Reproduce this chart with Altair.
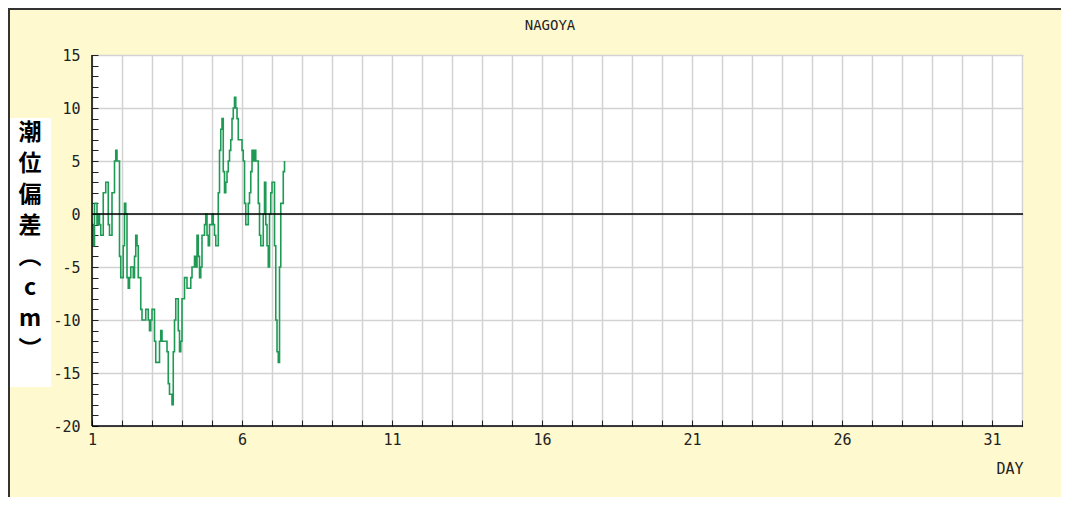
import altair as alt
import pandas as pd

# hourly tide anomaly (cm), starting day 1 00:00
hours = list(range(155))
anomaly_cm = [
    -1, -3, 1, 1, -1, 0, -1, -2, -2, 2, 2, 3, 3, -1, -2, -2, 2, 2, 5, 6,
    5, 5, -4, -6, -6, -3, 1, 0, -6, -7, -6, -5, -5, -6, -4, -2, -3, -6, -6, -9,
    -10, -10, -10, -9, -9, -10, -11, -10, -9, -9, -12, -14, -14, -14, -12, -11, -12, -12, -12, -12,
    -13, -16, -17, -17, -18, -13, -10, -8, -8, -11, -13, -12, -8, -8, -6, -6, -7, -7, -7, -6,
    -5, -5, -4, -5, -2, -4, -6, -5, -2, -2, -1, 0, -2, -3, -1, -1, 0, -1, -2, -3,
    -3, 2, 6, 8, 9, 4, 2, 3, 4, 5, 6, 7, 9, 10, 11, 10, 9, 7, 7, 7,
    6, 5, 1, -1, -1, 1, 2, 4, 6, 5, 6, 5, 5, 1, -2, -3, -3, 0, 3, -1,
    -3, -5, 0, 2, 3, 3, -3, -10, -13, -14, -5, 1, 1, 4, 5,
]
x_ticks = list(range(1, 33))
y_ticks = list(range(-20, 16))
station = "NAGOYA"
ylabel_chars = ["潮", "位", "偏", "差", "︵", "c", "m", "︶"]
xlabel = "DAY"

df = pd.DataFrame({"hour": hours, "cm": anomaly_cm})
df["day"] = 1 + df["hour"] / 24.0

W, H = 931, 371
PL, PT, PR, PB = 84, 47, 38, 71

mono = "DejaVu Sans Mono"

xscale = alt.Scale(domain=[1, 32.03], nice=False, zero=False)
yscale = alt.Scale(domain=[-20, 15], nice=False, zero=False)

x_axis = alt.Axis(
    values=x_ticks, tickCount=200,
    labelExpr="(datum.value - 1) % 5 == 0 ? datum.value : ''",
    labelOverlap=False,
    grid=True, gridColor="#d2d2d2", gridWidth=1.5,
    domain=False, offset=-6, tickSize=6, tickColor="#222", tickWidth=1,
    labelFont=mono, labelFontSize=15, labelColor="#222", labelPadding=6,
    labelFlush=False,
    title=xlabel, titleFont=mono, titleFontSize=15, titleFontWeight="normal",
    titleColor="#222", titleAnchor="end", titlePadding=14,
)
y_axis = alt.Axis(
    values=y_ticks, tickCount=200,
    labelExpr="datum.value % 5 == 0 ? datum.value : ''",
    labelOverlap=False,
    grid=True,
    gridColor={"condition": {"test": "datum.value % 5 != 0", "value": "transparent"}, "value": "#d2d2d2"},
    gridWidth=1.5,
    domain=False, offset=-6, tickSize=6, tickColor="#222", tickWidth=1,
    labelFont=mono, labelFontSize=15, labelColor="#222", labelPadding=12,
    title=None,
)

line = alt.Chart(df).mark_line(
    interpolate="step-after", color="#1f9a55", strokeWidth=1.6
).encode(
    x=alt.X("day:Q", scale=xscale, axis=x_axis),
    y=alt.Y("cm:Q", scale=yscale, axis=y_axis),
)

base1 = alt.Chart(pd.DataFrame({"v": [0]}))
zero_rule = base1.mark_rule(color="black", strokeWidth=1.5).encode(y=alt.datum(0, scale=yscale))
left_rule = base1.mark_rule(color="black", strokeWidth=1.5).encode(x=alt.datum(1, scale=xscale))
bottom_rule = base1.mark_rule(color="black", strokeWidth=1.5).encode(y=alt.datum(-20, scale=yscale))

label_box = base1.mark_rect(fill="white").encode(
    x=alt.value(-83), x2=alt.value(-41), y=alt.value(63), y2=alt.value(332)
)
label_text = alt.Chart(pd.DataFrame({"t": ["\n".join(ylabel_chars)]})).mark_text(
    lineBreak="\n", lineHeight=31, font="Noto Sans CJK JP", fontSize=23,
    fontWeight="bold", color="black", align="center", baseline="top",
).encode(x=alt.value(-62), y=alt.value(67), text="t:N")

title_text = alt.Chart(pd.DataFrame({"t": [station]})).mark_text(
    font=mono, fontSize=14, color="#222", align="center", baseline="middle",
).encode(x=alt.value(458), y=alt.value(-29), text="t:N")

frame_top = base1.mark_rule(color="#333", strokeWidth=2).encode(
    x=alt.value(-PL), x2=alt.value(W + PR), y=alt.value(-PT + 1)
)
frame_left = base1.mark_rule(color="#333", strokeWidth=2).encode(
    x=alt.value(-PL + 1), y=alt.value(-PT), y2=alt.value(H + PB)
)

chart = alt.layer(
    line, zero_rule, left_rule, bottom_rule, label_box, label_text, title_text,
    frame_top, frame_left
).properties(
    width=W, height=H,
    background="#FFF9CF",
    padding={"left": PL, "top": PT, "right": PR, "bottom": PB},
    autosize=alt.AutoSizeParams(type="none"),
).configure_view(fill="white", stroke="transparent")

chart.save("out.html", embed_options={"renderer": "svg", "actions": False})
